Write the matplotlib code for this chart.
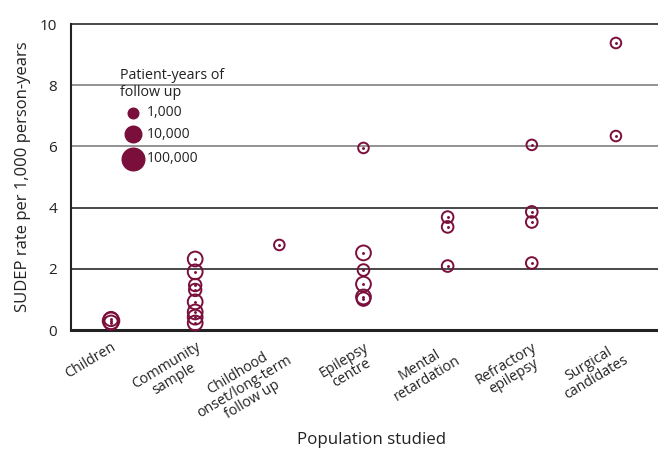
import numpy as np
import matplotlib
matplotlib.use("Agg")
import matplotlib.pyplot as plt

plt.rcParams['font.family'] = ['Open Sans', 'DejaVu Sans']

categories = ["Children", "Community\nsample", "Childhood\nonset/long-term\nfollow up",
              "Epilepsy\ncentre", "Mental\nretardation", "Refractory\nepilepsy",
              "Surgical\ncandidates"]

# SUDEP rate and patient-years of follow up per study, by population
children_rate = [0.30, 0.36, 0.24]
children_py = [10000, 4000, 4000]
community_rate = [2.32, 1.90, 1.47, 1.31, 0.92, 0.59, 0.42, 0.23]
community_py = [5000, 5000, 2000, 2000, 5000, 5000, 5000, 5000]
childhood_rate = [2.78]
childhood_py = [1000]
centre_rate = [5.95, 2.52, 1.96, 1.50, 1.08, 1.01]
centre_py = [1000, 5000, 1500, 5000, 5000, 3000]
mental_rate = [3.69, 3.37, 2.09]
mental_py = [1500, 1500, 1500]
refractory_rate = [6.05, 3.86, 3.53, 2.19]
refractory_py = [1000, 1500, 1500, 1500]
surgical_rate = [9.38, 6.34]
surgical_py = [1000, 1000]

groups = [(children_rate, children_py), (community_rate, community_py),
          (childhood_rate, childhood_py), (centre_rate, centre_py),
          (mental_rate, mental_py), (refractory_rate, refractory_py),
          (surgical_rate, surgical_py)]

legend_py = [1000, 10000, 100000]
legend_labels = ["1,000", "10,000", "100,000"]

COL = "#7a0f3c"
TXT = "#222222"
DPI = 100

def marker_s(py):
    r_px = 5.3 + 3 * np.log10(np.asarray(py, dtype=float) / 1000.0)
    return (2 * r_px * 72.0 / DPI) ** 2

fig = plt.figure(figsize=(6.58, 4.49), dpi=DPI)
ax = fig.add_axes([0.108, 0.265, 0.892, 0.6815])
ax.set_xlim(-0.475, 6.5)
ax.set_ylim(0, 10)

for y, c in [(2, "#3a3a3a"), (4, "#3a3a3a"), (6, "#8a8a8a"), (8, "#8a8a8a"), (10, "#3a3a3a")]:
    ax.axhline(y, color=c, lw=1.3, zorder=1, clip_on=False)

for i, (rates, pys) in enumerate(groups):
    xs = np.full(len(rates), i)
    ax.scatter(xs, rates, s=marker_s(pys), facecolors="none", edgecolors=COL,
               linewidths=1.4, zorder=3, clip_on=False)
    ax.scatter(xs, rates, s=1.2, color=COL, zorder=4, clip_on=False)

# size legend
ax.text(0.11, 8.05, "Patient-years of\nfollow up", fontsize=10.3, color=TXT,
        ha="left", va="center", linespacing=1.2)
leg_x = 0.26
leg_y = [7.1, 6.4, 5.6]
for py, ly, lab in zip(legend_py, leg_y, legend_labels):
    ax.scatter([leg_x], [ly], s=marker_s([py]), color=COL, zorder=5)
    ax.text(leg_x + 0.17, ly, lab, fontsize=10, color=TXT, va="center", ha="left")

ax.set_yticks([0, 2, 4, 6, 8, 10])
ax.tick_params(axis="both", length=0, labelsize=11, colors=TXT)
ax.tick_params(axis="y", pad=10)
ax.tick_params(axis="x", pad=7)
ax.set_xticks(range(len(categories)))
ax.set_xticklabels(categories, rotation=31, ha="right", rotation_mode="anchor",
                   multialignment="center", fontsize=10.3, linespacing=1.0, color=TXT)

ax.set_ylabel("SUDEP rate per 1,000 person-years", fontsize=12, color=TXT, labelpad=6)
fig.text(0.565, 1 - 440 / 449, "Population studied", fontsize=12.2, color=TXT,
         ha="center", va="center")

for sp in ["top", "right"]:
    ax.spines[sp].set_visible(False)
ax.spines["left"].set_linewidth(1.5)
ax.spines["left"].set_color(TXT)
ax.spines["bottom"].set_linewidth(2.2)
ax.spines["bottom"].set_color(TXT)

fig.savefig("out.png", dpi=DPI)
